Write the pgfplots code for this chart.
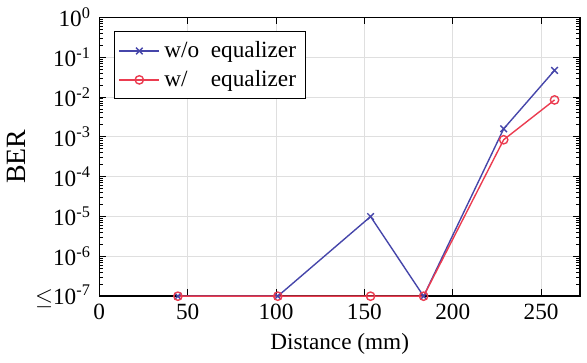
\documentclass[border=0pt]{standalone}
\usepackage{fontspec}
\setmainfont{Liberation Serif}
\usepackage{pgfplots}
\pgfplotsset{compat=1.18}
\definecolor{cblue}{RGB}{70,70,170}
\definecolor{cred}{RGB}{235,60,80}
\newcommand\tp[1]{10\textsuperscript{#1}}
\begin{document}
\begin{tikzpicture}
\begin{axis}[
  scale only axis,
  width=207pt, height=120pt,
  xmin=0, xmax=272,
  ymode=log, ymin=1e-7, ymax=1,
  xtick={0,50,100,150,200,250},
  ytick={1e-7,1e-6,1e-5,1e-4,1e-3,1e-2,1e-1,1},
  yticklabels={$\leq$\tp{-7},\tp{-6},\tp{-5},\tp{-4},\tp{-3},\tp{-2},\tp{-1},\tp{0}},
  /pgf/number format/assume math mode=true,
  grid=major,
  major grid style={gray!25, line width=0.4pt},
  tick align=inside,
  tick style={black, line width=0.4pt},
  major tick length=3pt, minor tick length=1.6pt,
  minor y tick num=9,
  xlabel={Distance (mm)},
  ylabel={BER},
  xlabel style={yshift=1pt},
  ylabel style={yshift=-3pt, font=\large},
  tick label style={font=\normalsize},
  legend style={at={(0.03,0.95)}, anchor=north west, draw=black, font=\normalsize, inner sep=2pt},
  legend cell align=left,
  axis line style={line width=0.6pt},
]
\addplot[cblue, line width=0.6pt, mark=x, mark size=2pt] coordinates {
  (44.5,1e-7) (101,1e-7) (153.5,1e-5) (183.5,1e-7) (228.8,1.6e-3) (257.6,4.7e-2)
};
\addlegendentry{w/o\ \ equalizer}
\addplot[cred, line width=0.6pt, mark=o, mark size=1.8pt] coordinates {
  (44.5,1e-7) (101,1e-7) (153.5,1e-7) (183.5,1e-7) (228.8,8.5e-4) (257.6,8.5e-3)
};
\addlegendentry{w/\ \ \ \ equalizer}
\end{axis}
\path ([xshift=3pt]current axis.east);
\end{tikzpicture}
\end{document}
